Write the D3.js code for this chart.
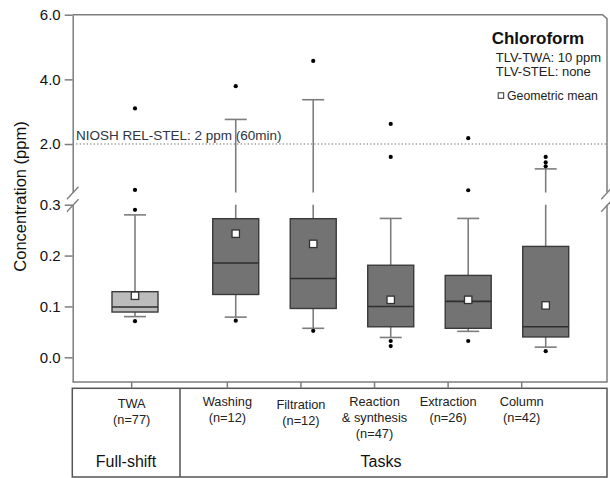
<!DOCTYPE html>
<html>
<head>
<meta charset="utf-8">
<script src="https://cdn.jsdelivr.net/npm/d3@7"></script>
<style>
  html, body { margin: 0; padding: 0; background: #fff; }
  svg { display: block; font-family: "Liberation Sans", Arial, sans-serif; }
</style>
</head>
<body>
<svg id="chart" width="610" height="478"></svg>
<script>
// ---------------- data ----------------
const categories  = ["TWA", "Washing", "Filtration", "Reaction", "Extraction", "Column"];
const subLabels   = [[], [], [], ["& synthesis"], [], []];
const sampleSizes = [77, 12, 12, 47, 26, 42];
const groups      = ["Full-shift", "Tasks", "Tasks", "Tasks", "Tasks", "Tasks"];
const whiskerLow  = [0.080, 0.079, 0.057, 0.039, 0.051, 0.020];
const q1          = [0.089, 0.1235, 0.096, 0.060, 0.057, 0.040];
const median      = [0.099, 0.1855, 0.155, 0.100, 0.110, 0.060];
const q3          = [0.129, 0.2725, 0.2725, 0.181, 0.161, 0.218];
const whiskerHigh = [0.280, 2.76, 3.37, 0.273, 0.273, 1.23];
const geoMean     = [0.121, 0.243, 0.223, 0.113, 0.113, 0.102];
const outliers    = [
  [0.071, 0.29, 0.58, 3.10],
  [0.072, 3.79],
  [0.052, 4.57],
  [0.022, 0.032, 1.60, 2.62],
  [0.032, 0.57, 2.18],
  [0.012, 1.31, 1.43, 1.60]
];
const upperTicks = [2.0, 4.0, 6.0];
const lowerTicks = [0.0, 0.1, 0.2, 0.3];
const refValue = 2.0;
const refLabel = "NIOSH REL-STEL: 2 ppm (60min)";
const legendTitle = "Chloroform";
const legendLines = ["TLV-TWA: 10 ppm", "TLV-STEL: none"];
const meanLabel = "Geometric mean";

// ---------------- layout ----------------
const svg = d3.select("#chart");
const pL = 72.7, pR = 607, pT = 14.7, pB = 382;
const breakUpperY = 192.5, breakLowerY = 204.7;
const breakLow = 0.3, breakHigh = 0.5;

const yUp = d3.scaleLinear().domain([breakHigh, 6]).range([breakUpperY, pT]);
const yLo = d3.scaleLinear().domain([0, 0.3]).range([357.3, breakLowerY]);
const yLoDomainMin = yLo.invert(pB);
yLo.domain([yLoDomainMin, 0.3]).range([pB, breakLowerY]);
const yv = v => v >= breakHigh ? yUp(v) : yLo(v);

// positions: full-shift group then task group with a wider gap
const slot = i => i + (i > 0 ? 0.3 : 0);
const xBox = d3.scaleLinear().domain([0, slot(5)]).range([135, 545.7]);
const xTab = d3.scaleLinear().domain([0, slot(5)]).range([131.7, 521.7]);

const gray = "#7d7d7d";
const dark = "#3a3a3a";

// reference dotted line
svg.append("line")
  .attr("x1", pL).attr("x2", pR)
  .attr("y1", yUp(refValue)).attr("y2", yUp(refValue))
  .attr("stroke", "#9a9a9a").attr("stroke-width", 1.3)
  .attr("stroke-dasharray", "1.3,2.2");
svg.append("text")
  .attr("x", 76).attr("y", yUp(refValue) - 4.5)
  .attr("font-size", 13.5).attr("fill", "#2e3440")
  .text(refLabel);

// plot frame: top, right (with break), bottom
svg.append("path")
  .attr("d", `M${pL},${pT}H${pR - 4.5}L${pR},${pT + 4}V${breakUpperY}`)
  .attr("fill", "none").attr("stroke", gray).attr("stroke-width", 1.5);
svg.append("path")
  .attr("d", `M${pR},${breakLowerY}V${pB}H${pL}`)
  .attr("fill", "none").attr("stroke", gray).attr("stroke-width", 1.5);

// axes
const fmt = d3.format(".1f");
const axUp = svg.append("g").attr("transform", `translate(${pL},0)`)
  .call(d3.axisLeft(yUp).tickValues(upperTicks).tickFormat(fmt).tickSize(8).tickSizeOuter(0).tickPadding(4));
const axLo = svg.append("g").attr("transform", `translate(${pL},0)`)
  .call(d3.axisLeft(yLo).tickValues(lowerTicks).tickFormat(fmt).tickSize(8).tickSizeOuter(0).tickPadding(4));
[axUp, axLo].forEach(ax => {
  ax.select(".domain").attr("stroke", gray).attr("stroke-width", 1.5);
  ax.selectAll(".tick line").attr("stroke", gray).attr("stroke-width", 1.5);
  ax.selectAll(".tick text").attr("font-size", 15).attr("fill", "#111")
    .attr("font-family", "'Liberation Sans', Arial, sans-serif");
});

// break marks
[pL, pR].forEach(bx => {
  [breakUpperY + 0.5, breakLowerY + 0.8].forEach(by => {
    svg.append("line")
      .attr("x1", bx - 5.8).attr("y1", by + 6.3)
      .attr("x2", bx + 5.8).attr("y2", by - 6.3)
      .attr("stroke", gray).attr("stroke-width", 1.3);
  });
});

// y title
svg.append("text")
  .attr("transform", `translate(25.5,${196.5}) rotate(-90)`)
  .attr("text-anchor", "middle").attr("font-size", 16.5).attr("fill", "#111")
  .text("Concentration (ppm)");

// boxes
const boxW = 46, capW = 22;
categories.forEach((c, i) => {
  const cx = xBox(slot(i));
  const g = svg.append("g");
  // whiskers
  const segs = [];
  if (whiskerHigh[i] > breakLow) {
    segs.push([yv(q3[i]), yLo(breakLow)]);
    segs.push([yUp(breakHigh), yUp(whiskerHigh[i])]);
  } else {
    segs.push([yv(q3[i]), yv(whiskerHigh[i])]);
  }
  segs.push([yv(q1[i]), yv(whiskerLow[i])]);
  segs.forEach(s => g.append("line")
    .attr("x1", cx).attr("x2", cx).attr("y1", s[0]).attr("y2", s[1])
    .attr("stroke", gray).attr("stroke-width", 1.6));
  [whiskerHigh[i], whiskerLow[i]].forEach(v => g.append("line")
    .attr("x1", cx - capW / 2).attr("x2", cx + capW / 2)
    .attr("y1", yv(v)).attr("y2", yv(v))
    .attr("stroke", gray).attr("stroke-width", 1.6));
  // box
  g.append("rect")
    .attr("x", cx - boxW / 2).attr("width", boxW)
    .attr("y", yv(q3[i])).attr("height", yv(q1[i]) - yv(q3[i]))
    .attr("fill", i === 0 ? "#bcbcbc" : "#737373")
    .attr("stroke", dark).attr("stroke-width", 1.4);
  g.append("line")
    .attr("x1", cx - boxW / 2).attr("x2", cx + boxW / 2)
    .attr("y1", yv(median[i])).attr("y2", yv(median[i]))
    .attr("stroke", "#2e2e2e").attr("stroke-width", 1.6);
  // outliers
  outliers[i].forEach(v => g.append("circle")
    .attr("cx", cx).attr("cy", yv(v)).attr("r", 2.1).attr("fill", "#000"));
  // geometric mean
  g.append("rect")
    .attr("x", cx - 3.7).attr("y", yv(geoMean[i]) - 3.7)
    .attr("width", 7.4).attr("height", 7.4)
    .attr("fill", "#fff").attr("stroke", "#333").attr("stroke-width", 1.3);
});

// legend
svg.append("text").attr("x", 491.7).attr("y", 43.5)
  .attr("font-size", 17).attr("font-weight", "bold").attr("fill", "#111")
  .text(legendTitle);
legendLines.forEach((t, k) => svg.append("text")
  .attr("x", 495.7).attr("y", 61.5 + k * 14.5)
  .attr("font-size", 13).attr("fill", "#222").text(t));
svg.append("rect").attr("x", 498.2).attr("y", 92.8).attr("width", 5.5).attr("height", 5.5)
  .attr("fill", "#fff").attr("stroke", "#333").attr("stroke-width", 1);
svg.append("text").attr("x", 507).attr("y", 99.5)
  .attr("font-size", 12.3).attr("fill", "#222").text(meanLabel);

// table below
const tabTop = 388.3, tabBottom = 477, divX = 180;
svg.append("rect")
  .attr("x", 72.3).attr("y", tabTop)
  .attr("width", pR - 72.3).attr("height", tabBottom - tabTop)
  .attr("fill", "none").attr("stroke", "#555").attr("stroke-width", 1.5);
svg.append("line").attr("x1", divX).attr("x2", divX).attr("y1", tabTop).attr("y2", tabBottom)
  .attr("stroke", "#555").attr("stroke-width", 1.5);

const labelShift = {TWA: 1.5, Filtration: 3};
categories.forEach((c, i) => {
  const tx = xTab(slot(i));
  svg.append("line").attr("x1", tx).attr("x2", tx).attr("y1", pB).attr("y2", tabTop)
    .attr("stroke", gray).attr("stroke-width", 1.5);
  const lines = [c, ...subLabels[i], `(n=${sampleSizes[i]})`];
  const base = 406 + (labelShift[c] || 0);
  const t = svg.append("text").attr("text-anchor", "middle")
    .attr("font-size", 12.8).attr("fill", "#222");
  lines.forEach((ln, k) => t.append("tspan")
    .attr("x", tx).attr("y", base + k * 16).text(ln));
});

const groupNames = Array.from(new Set(groups));
const groupX = {"Full-shift": 126, "Tasks": 381};
groupNames.forEach(gn => svg.append("text")
  .attr("x", groupX[gn]).attr("y", 466.5)
  .attr("text-anchor", "middle").attr("font-size", 16).attr("fill", "#111")
  .text(gn));
</script>
</body>
</html>
